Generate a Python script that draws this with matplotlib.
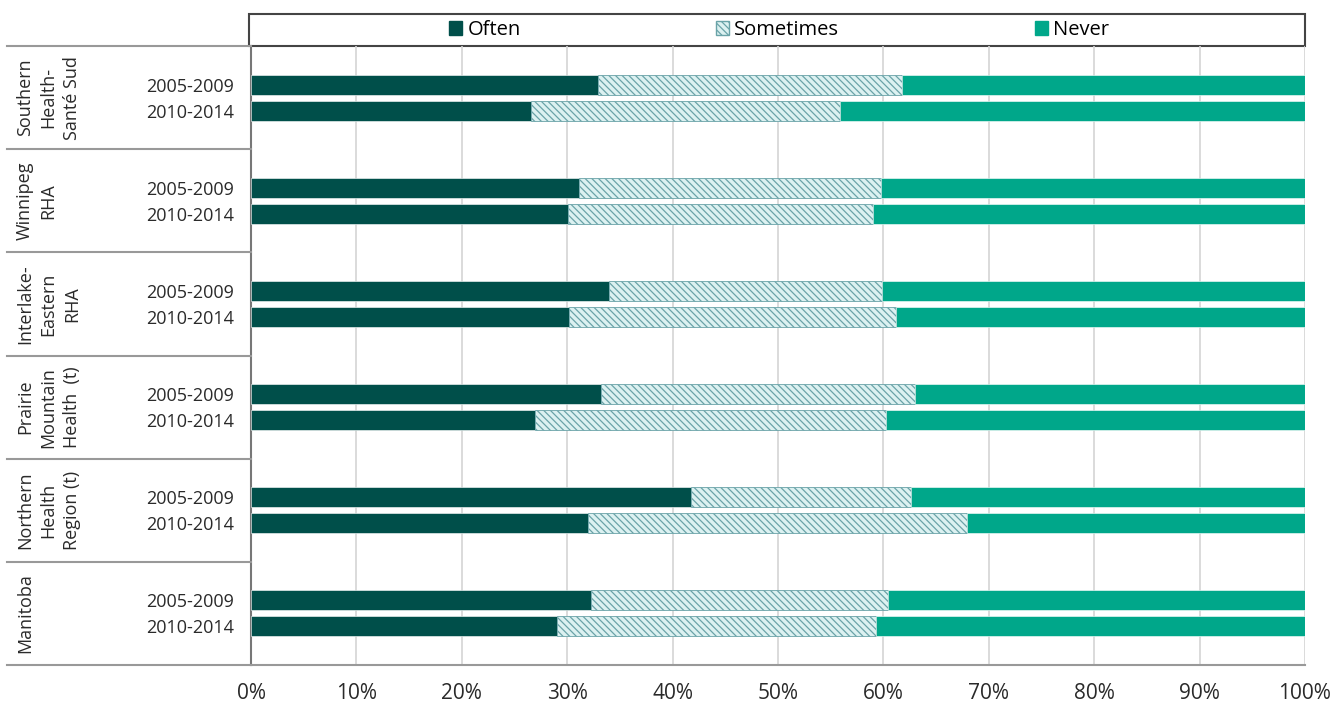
import numpy as np
import matplotlib.pyplot as plt
from matplotlib.patches import Rectangle, Patch
import matplotlib.transforms as mtransforms

plt.rcParams['font.family'] = ['Open Sans', 'DejaVu Sans']
plt.rcParams['hatch.linewidth'] = 0.9

groups = ['Southern\nHealth-\nSanté Sud', 'Winnipeg\nRHA', 'Interlake-\nEastern\nRHA',
          'Prairie\nMountain\nHealth  (t)', 'Northern\nHealth\nRegion (t)', 'Manitoba']
periods = ['2005-2009', '2010-2014']

# percentages, per group: [2005-2009, 2010-2014]
often = [[32.9, 26.6], [31.1, 30.1], [34.0, 30.2], [33.2, 26.9], [41.7, 32.0], [32.3, 29.0]]
sometimes = [[28.9, 29.3], [28.7, 28.9], [25.9, 31.0], [29.8, 33.3], [20.9, 35.9], [28.1, 30.3]]
never = [[38.2, 44.1], [40.2, 41.0], [40.1, 38.8], [37.0, 39.8], [37.4, 32.1], [39.6, 40.7]]

c_often = '#004f4a'
c_some = '#dcf1f1'
c_hatch = '#6aa3a8'
c_never = '#00a78a'
hatch = '\\' * 5

fig = plt.figure(figsize=(13.41, 7.04), dpi=100)
ax = fig.add_axes([251/1341, 1 - 665/704, 1054/1341, 619/704])

off = 13/103
h = 20/103
ypos, ylab = [], []
for i in range(len(groups)):
    for j in range(2):
        y = i + 0.5 + (-off if j == 0 else off)
        o, s, n = often[i][j], sometimes[i][j], never[i][j]
        tot = o + s + n
        o, s, n = o / tot * 100, s / tot * 100, n / tot * 100
        ax.barh(y, o, height=h, color=c_often, edgecolor='white', linewidth=0.4, zorder=3)
        ax.barh(y, s, left=o, height=h, color=c_some, edgecolor=c_hatch, linewidth=0.6,
                hatch=hatch, zorder=3)
        ax.barh(y, n, left=o + s, height=h, color=c_never, edgecolor='white', linewidth=0.4, zorder=3)
        ypos.append(y)
        ylab.append(periods[j])

ax.set_xlim(0, 100)
ax.set_ylim(len(groups), 0)
ax.set_xticks(np.arange(0, 101, 10))
ax.set_xticklabels([f'{v}%' for v in range(0, 101, 10)])
ax.set_yticks(ypos)
ax.set_yticklabels(ylab)
ax.tick_params(axis='both', length=0, colors='#2a2a2a')
ax.tick_params(axis='y', pad=12, labelsize=13)
ax.tick_params(axis='x', pad=13, labelsize=15)
ax.grid(axis='x', color='#d4d4d4', linewidth=1.2, zorder=0)
for sp in ['top', 'right']:
    ax.spines[sp].set_visible(False)
ax.spines['left'].set_color('#777777')
ax.spines['left'].set_linewidth(1.5)
ax.spines['bottom'].set_color('#999999')
ax.spines['bottom'].set_linewidth(1.5)

# separators in the label column
tr = mtransforms.blended_transform_factory(ax.transAxes, ax.transData)
x0 = -244/1054
for b in range(len(groups) + 1):
    ax.plot([x0, 0], [b, b], transform=tr, color='#999999', lw=1.5, clip_on=False, zorder=4)

for i, g in enumerate(groups):
    ax.text(x0 + 9/1054, i + 0.5, g, transform=tr, rotation=90, ha='left', va='center',
            multialignment='center', fontsize=13, color='#2a2a2a', linespacing=1.4)

# legend box
ax.add_patch(Rectangle((-0.002, 1.0), 1.002, 32/619, transform=ax.transAxes, fill=False,
                       edgecolor='#444444', lw=1.5, clip_on=False))
handles = [Patch(facecolor=c_often, edgecolor=c_often),
           Patch(facecolor=c_some, edgecolor=c_hatch, hatch=hatch),
           Patch(facecolor=c_never, edgecolor=c_never)]
ax.legend(handles, ['Often', 'Sometimes', 'Never'], loc='center', bbox_to_anchor=(0.501, 1.0 + 16/619),
          ncol=3, frameon=False, fontsize=14.5, handlelength=0.65, handleheight=0.65,
          handletextpad=0.25, columnspacing=9.7, borderaxespad=0)

fig.savefig('out.png', dpi=100, facecolor='white')
